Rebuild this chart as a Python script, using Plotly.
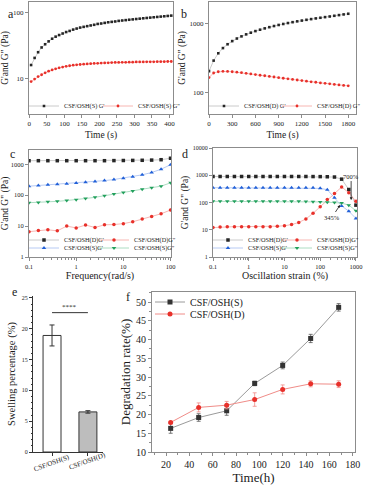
import plotly.graph_objects as go

W, H = 365, 489
FONT = "Liberation Serif, Times New Roman, serif"

# ---------------- data ----------------
# Panel a
a_time = [5, 15, 25, 35, 45, 55, 65, 75, 85, 95, 105, 115, 125, 135, 145, 155, 165, 175, 185, 195,
          205, 215, 225, 235, 245, 255, 265, 275, 285, 295, 305, 315, 325, 335, 345, 355, 365, 375,
          385, 395, 405]
a_gp = [16, 20.5, 25, 29.5, 33, 36.5, 40, 43, 45.5, 48, 50.5, 52.5, 55, 57, 59, 60.5, 62, 63.5, 65, 67,
        68, 69.5, 71, 72, 73, 74.5, 75.5, 76.5, 77.5, 78.5, 79.5, 80.5, 81.5, 82.5, 83.5, 84.5, 85.5,
        86.5, 87.5, 88.5, 89.5]
a_gpp = [9.0, 9.8, 10.7, 11.4, 12.2, 12.9, 13.5, 14.0, 14.5, 14.9, 15.3, 15.6, 15.9, 16.1, 16.3, 16.5,
         16.6, 16.8, 16.9, 17.0, 17.1, 17.2, 17.3, 17.4, 17.5, 17.5, 17.6, 17.6, 17.7, 17.7, 17.8, 17.8,
         17.8, 17.9, 17.9, 17.9, 18.0, 18.0, 18.0, 18.1, 18.1]

# Panel b
b_time = [0, 60, 120, 180, 240, 300, 360, 420, 480, 540, 600, 660, 720, 780, 840, 900, 960, 1020,
          1080, 1140, 1200, 1260, 1320, 1380, 1440, 1500, 1560, 1620, 1680, 1740, 1800]
b_gp = [204, 290, 370, 440, 500, 555, 605, 650, 695, 735, 775, 812, 848, 883, 917, 950, 982, 1013,
        1043, 1072, 1100, 1128, 1155, 1182, 1208, 1234, 1260, 1290, 1320, 1350, 1380]
b_gpp = [165, 192, 200, 203, 202, 200, 197, 194, 190, 186, 182, 178, 175, 171, 168, 164, 161, 158,
         155, 152, 149, 146, 143, 141, 138, 136, 134, 131, 129, 127, 125]

# Panel c
c_freq = [0.1, 0.158, 0.251, 0.398, 0.631, 1, 1.58, 2.51, 3.98, 6.31, 10, 15.8, 25.1, 39.8, 63.1, 100]
c_d_gp = [1300, 1300, 1300, 1300, 1300, 1300, 1300, 1300, 1300, 1310, 1320, 1330, 1340, 1360, 1400, 1560]
c_d_gpp = [6.6, 7.2, 7.6, 7.0, 10.0, 8.7, 10.8, 9.0, 11.0, 11.2, 12.0, 13.8, 17.0, 20.5, 25.0, 33.0]
c_s_gp = [195, 205, 215, 225, 235, 245, 260, 275, 295, 320, 355, 395, 455, 540, 690, 960]
c_s_gpp = [57, 58, 61, 63, 67, 71, 78, 85, 95, 108, 122, 137, 155, 175, 195, 250]

# Panel d
d_strain = [0.1, 0.158, 0.251, 0.398, 0.631, 1, 1.58, 2.51, 3.98, 6.31, 10, 15.8, 25.1, 39.8, 63.1,
            100, 158, 251, 398, 631, 1000]
d_d_gp = [900, 900, 900, 900, 900, 900, 900, 900, 900, 900, 900, 900, 900, 900, 895, 890, 880, 860,
          720, 300, 80]
d_d_gpp = [12, 12.5, 13, 13, 13, 13, 13, 13, 13, 13.5, 14, 15.5, 18.5, 25, 40, 70, 130, 215, 370, 230, 110]
d_s_gp = [350, 350, 350, 350, 350, 350, 350, 350, 350, 350, 350, 350, 350, 350, 345, 330, 295, 150,
          75, 48, 26]
d_s_gpp = [110, 110, 110, 110, 110, 110, 110, 110, 110, 110, 110, 110, 110, 108, 107, 105, 103, 100,
           95, 80, 50]
d_notes = ["700%", "345%"]

# Panel e
e_groups = ["CSF/OSH(S)", "CSF/OSH(D)"]
e_values = [18.9, 6.5]
e_err = [1.7, 0.2]
e_sig = "****"
e_sig_level = 22.6

# Panel f
f_time = [24, 48, 72, 96, 120, 144, 168]
f_s = [16.3, 19.2, 21.0, 28.3, 33.1, 40.3, 48.6]
f_s_err = [1.3, 1.0, 1.2, 0.6, 0.9, 1.1, 1.0]
f_d = [17.9, 21.9, 22.5, 24.0, 26.7, 28.2, 28.1]
f_d_err = [0.3, 1.2, 1.0, 1.8, 1.2, 0.8, 0.9]

# ---------------- styling helpers ----------------
BLACK, RED, BLUE, GREEN = "#262626", "#e8302a", "#2160d8", "#22a05c"
LBLACK, LRED, LBLUE, LGREEN = "#bdbdbd", "#f5a3a0", "#a4bdf0", "#97d4b2"


def px_x(p):
    return p / W


def px_y(p):
    return 1 - p / H


fig = go.Figure()

legend_layouts = {}
_leg_count = [0]


def new_legend(xpx, ypx, size):
    _leg_count[0] += 1
    n = _leg_count[0]
    name = "legend" if n == 1 else f"legend{n}"
    legend_layouts[name] = dict(
        x=px_x(xpx), y=px_y(ypx), xanchor="left", yanchor="middle", orientation="h",
        bgcolor="rgba(0,0,0,0)", borderwidth=0, itemwidth=30,
        font=dict(size=size, family=FONT, color="#1a1a1a"),
    )
    return name


def series(x, y, name, color, lcolor, symbol, size, xa, ya, legend):
    fig.add_trace(go.Scatter(
        x=x, y=y, name=name, mode="lines+markers",
        line=dict(color=lcolor, width=0.8),
        marker=dict(color=color, symbol=symbol, size=size),
        xaxis=xa, yaxis=ya, legend=legend, showlegend=True,
    ))


# Panel a
series(a_time, a_gp, "CSF/OSH(S) G'", BLACK, LBLACK, "square", 2.6, "x", "y", new_legend(24, 106, 6.3))
series(a_time, a_gpp, "CSF/OSH(S) G\"", RED, LRED, "circle", 2.8, "x", "y", new_legend(98, 106, 6.3))

# Panel b
series(b_time, b_gp, "CSF/OSH(D) G'", BLACK, LBLACK, "square", 2.6, "x2", "y2", new_legend(204, 106, 6.3))
series(b_time, b_gpp, "CSF/OSH(D) G\"", RED, LRED, "circle", 2.8, "x2", "y2", new_legend(277, 106, 6.3))

# Panel c
series(c_freq, c_d_gp, "CSF/OSH(D)G'", BLACK, LBLACK, "square", 3.5, "x3", "y3", new_legend(24, 240, 6.3))
series(c_freq, c_d_gpp, "CSF/OSH(D)G\"", RED, LRED, "circle", 3.5, "x3", "y3", new_legend(94, 240, 6.3))
series(c_freq, c_s_gp, "CSF/OSH(S)G'", BLUE, LBLUE, "triangle-up", 4, "x3", "y3", new_legend(24, 248, 6.3))
series(c_freq, c_s_gpp, "CSF/OSH(S)G\"", GREEN, LGREEN, "triangle-down", 4, "x3", "y3", new_legend(94, 248, 6.3))

# Panel d
series(d_strain, d_d_gp, "CSF/OSH(D)G'", BLACK, LBLACK, "square", 3.5, "x4", "y4", new_legend(208, 240, 6.3))
series(d_strain, d_d_gpp, "CSF/OSH(D)G\"", RED, LRED, "circle", 3.5, "x4", "y4", new_legend(277, 240, 6.3))
series(d_strain, d_s_gp, "CSF/OSH(S)G'", BLUE, LBLUE, "triangle-up", 4, "x4", "y4", new_legend(208, 248, 6.3))
series(d_strain, d_s_gpp, "CSF/OSH(S)G\"", GREEN, LGREEN, "triangle-down", 4, "x4", "y4", new_legend(277, 248, 6.3))

# Panel e
fig.add_trace(go.Bar(
    x=e_groups, y=e_values, width=0.5,
    marker=dict(color=["#ffffff", "#bdbdbd"], line=dict(color="#333333", width=1)),
    error_y=dict(type="data", array=e_err, color="#333333", thickness=1, width=2.5),
    xaxis="x5", yaxis="y5", showlegend=False,
))

# Panel f
fig.add_trace(go.Scatter(
    x=f_time, y=f_s, name="CSF/OSH(S)", mode="lines+markers",
    line=dict(color="#9a9a9a", width=1), marker=dict(color="#333333", symbol="square", size=5),
    error_y=dict(type="data", array=f_s_err, color="#555555", thickness=0.8, width=2),
    xaxis="x6", yaxis="y6", legend=new_legend(150, 302, 10),
))
fig.add_trace(go.Scatter(
    x=f_time, y=f_d, name="CSF/OSH(D)", mode="lines+markers",
    line=dict(color="#f08c88", width=1), marker=dict(color=RED, symbol="circle", size=5),
    error_y=dict(type="data", array=f_d_err, color="#f08c88", thickness=0.8, width=2),
    xaxis="x6", yaxis="y6", legend=new_legend(150, 314, 10),
))

# ---------------- axes ----------------
def box_axis(**kw):
    d = dict(showline=True, linecolor="#8c8c8c", linewidth=1, mirror=True, ticks="outside",
             ticklen=3, tickcolor="#8c8c8c", showgrid=False, zeroline=False, automargin=False,
             tickfont=dict(size=7, family=FONT, color="#1a1a1a"))
    d.update(kw)
    return d


def title(text, size, standoff):
    return dict(text=text, font=dict(size=size, family=FONT, color="#1a1a1a"), standoff=standoff)


YT = "G'and G\" (Pa)"

lay = dict(
    width=W, height=H, margin=dict(l=0, r=0, t=0, b=0, pad=0, autoexpand=False),
    paper_bgcolor="white", plot_bgcolor="white",
    font=dict(family=FONT, color="#1a1a1a"),
    # a
    xaxis=box_axis(domain=[px_x(29), px_x(173)], anchor="y", range=[-1, 410],
                   tickvals=[0, 50, 100, 150, 200, 250, 300, 350, 400], title=title("Time (s)", 9.5, 3)),
    yaxis=box_axis(domain=[px_y(114), px_y(2)], anchor="x", type="log", range=[0.463, 2.158],
                   tickvals=[10, 100], ticktext=["10", "100"], title=title(YT, 9.5, 2)),
    # b
    xaxis2=box_axis(domain=[px_x(209), px_x(356)], anchor="y2", range=[0, 1900],
                    tickvals=[0, 300, 600, 900, 1200, 1500, 1800], title=title("Time (s)", 9.5, 3)),
    yaxis2=box_axis(domain=[px_y(114), px_y(2)], anchor="x2", type="log", range=[1.69, 3.31],
                    tickvals=[100, 1000], ticktext=["100", "1000"], title=title(YT, 9.5, 2)),
    # c
    xaxis3=box_axis(domain=[px_x(29), px_x(171)], anchor="y3", type="log", range=[-1, 2.01],
                    tickvals=[0.1, 1, 10, 100], ticktext=["0.1", "1", "10", "100"],
                    tickfont=dict(size=6.5, family=FONT, color="#1a1a1a"),
                    minor=dict(ticks="outside", ticklen=2, tickcolor="#8c8c8c", dtick="D1"),
                    title=title("Frequency(rad/s)", 10, 3)),
    yaxis3=box_axis(domain=[px_y(257), px_y(150)], anchor="x3", type="log", range=[0, 3.46],
                    tickvals=[1, 10, 100, 1000], ticktext=["1", "10", "100", "1000"],
                    tickfont=dict(size=6.5, family=FONT, color="#1a1a1a"),
                    title=title(YT, 9.5, 2)),
    # d
    xaxis4=box_axis(domain=[px_x(213), px_x(357)], anchor="y4", type="log", range=[-1, 3.03],
                    tickvals=[0.1, 1, 10, 100, 1000], ticktext=["0.1", "1", "10", "100", "1000"],
                    tickfont=dict(size=6.5, family=FONT, color="#1a1a1a"),
                    minor=dict(ticks="outside", ticklen=2, tickcolor="#8c8c8c", dtick="D1"),
                    title=title("Oscillation strain (%)", 10, 3)),
    yaxis4=box_axis(domain=[px_y(257), px_y(148)], anchor="x4", type="log", range=[0, 4],
                    tickvals=[1, 10, 100, 1000, 10000], ticktext=["1", "10", "100", "1000", "10000"],
                    tickfont=dict(size=6, family=FONT, color="#1a1a1a"),
                    title=title(YT, 9.5, 2)),
    # e
    xaxis5=dict(domain=[px_x(33), px_x(103)], anchor="y5", range=[-0.53, 1.42], showline=True,
                linecolor="#333333", linewidth=1, ticks="outside", ticklen=3, tickcolor="#333333",
                showticklabels=False, showgrid=False, zeroline=False, automargin=False),
    yaxis5=dict(domain=[px_y(452), px_y(296)], anchor="x5", range=[0, 25.3], showline=True,
                linecolor="#333333", linewidth=1, ticks="outside", ticklen=3, tickcolor="#333333",
                tickvals=[0, 5, 10, 15, 20, 25], showgrid=False, zeroline=False, automargin=False,
                minor=dict(ticks="outside", ticklen=1.5, tickcolor="#333333", dtick=1),
                tickfont=dict(size=6, family=FONT, color="#1a1a1a"),
                title=title("Swelling percentage (%)", 10.5, 4)),
    # f
    xaxis6=box_axis(domain=[px_x(152), px_x(355)], anchor="y6", range=[8, 182],
                    tickvals=[20, 40, 60, 80, 100, 120, 140, 160, 180],
                    tickfont=dict(size=10, family=FONT, color="#1a1a1a"),
                    minor=dict(ticks="outside", ticklen=2, tickcolor="#8c8c8c", dtick=10),
                    title=title("Time(h)", 13, 3)),
    yaxis6=box_axis(domain=[px_y(452), px_y(292)], anchor="x6", range=[10, 52.7],
                    tickvals=[10, 15, 20, 25, 30, 35, 40, 45, 50],
                    tickfont=dict(size=10, family=FONT, color="#1a1a1a"),
                    minor=dict(ticks="outside", ticklen=2, tickcolor="#8c8c8c", dtick=2.5),
                    title=title("Degradation rate(%)", 13, 2)),
)
lay.update(legend_layouts)
fig.update_layout(**lay)

# rotated category labels of panel e, centred under each bar
for g, yp in zip(e_groups, [463, 461]):
    fig.add_annotation(xref="x5", yref="paper", x=g, y=px_y(yp), text=g, showarrow=False,
                       textangle=-20, xanchor="center", yanchor="middle",
                       font=dict(size=7, family=FONT, color="#1a1a1a"))

# significance bar for panel e
fig.add_shape(type="line", xref="x5", yref="y5", x0=e_groups[0], x1=e_groups[1],
              y0=e_sig_level, y1=e_sig_level, line=dict(color="#333333", width=1))
fig.add_annotation(xref="x5", yref="y5", x=0.5, y=e_sig_level, text=e_sig, showarrow=False,
                   yanchor="bottom", font=dict(size=7, family=FONT, color="#1a1a1a"))

# strain annotations panel d
fig.add_annotation(xref="x4", yref="y4", x=2.866, y=2.09, text=d_notes[0], showarrow=True,
                   ax=0, ay=-24, arrowhead=2, arrowsize=0.7, arrowwidth=0.8, arrowcolor="#1a1a1a",
                   font=dict(size=6.5, family=FONT, color="#1a1a1a"))
fig.add_annotation(xref="x4", yref="y4", x=2.557, y=1.908, text=d_notes[1], showarrow=True,
                   ax=-8, ay=12, arrowhead=2, arrowsize=0.7, arrowwidth=0.8, arrowcolor="#1a1a1a",
                   font=dict(size=6.5, family=FONT, color="#1a1a1a"))

# panel letters
for letter, xp, yp in [("a", 6, 5), ("b", 184, 5), ("c", 8, 145), ("d", 185, 145), ("e", 10, 292),
                       ("f", 128, 297)]:
    fig.add_annotation(xref="paper", yref="paper", x=px_x(xp), y=px_y(yp), text=letter,
                       showarrow=False, font=dict(size=12, family=FONT, color="#1a1a1a"))

fig.write_html("out.html", config={"displayModeBar": False},
               post_script="document.body.style.margin='0px';document.body.style.padding='0px';")
